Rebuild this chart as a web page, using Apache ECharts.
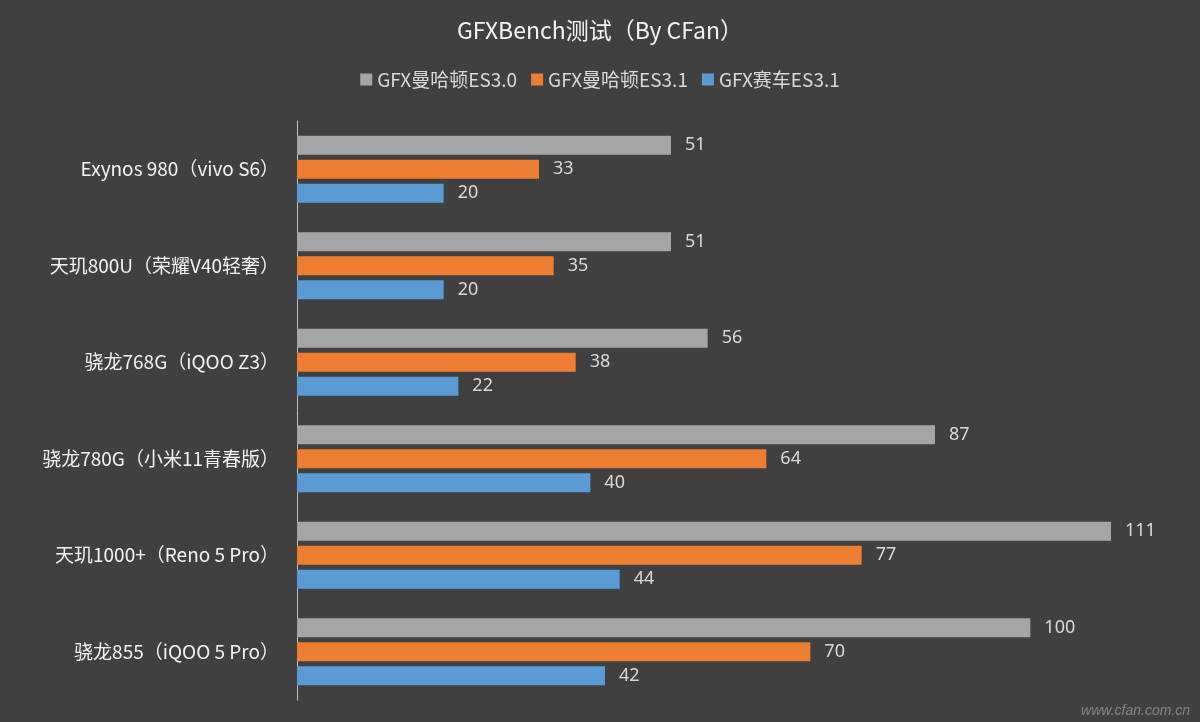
<!DOCTYPE html>
<html><head><meta charset="utf-8">
<script src="https://cdn.jsdelivr.net/npm/echarts@6/dist/echarts.min.js"></script>
<style>html,body{margin:0;padding:0;background:#404040}#c{width:1200px;height:722px}</style>
</head><body><div id="c"></div>
<script>
const categories=["Exynos 980（vivo S6）","天玑800U（荣耀V40轻奢）","骁龙768G（iQOO Z3）","骁龙780G（小米11青春版）","天玑1000+（Reno 5 Pro）","骁龙855（iQOO 5 Pro）"];
const seriesNames=["GFX曼哈顿ES3.0","GFX曼哈顿ES3.1","GFX赛车ES3.1"];
const manhattan30=[51,51,56,87,111,100];
const manhattan31=[33,35,38,64,77,70];
const car31=[20,20,22,40,44,42];
const colors=["#a5a5a5","#ed7d31","#5b9bd5"];
const data=[manhattan30,manhattan31,car31];
const chart=echarts.init(document.getElementById('c'));
chart.setOption({
backgroundColor:'#404040',
title:{text:'GFXBench测试（By CFan）',left:'center',top:14,textStyle:{color:'#f2f2f2',fontSize:23,fontWeight:'normal',fontFamily:'Noto Sans CJK SC'}},
legend:{top:65,itemWidth:12,itemHeight:12,icon:'rect',itemGap:14,textStyle:{color:'#d9d9d9',fontSize:19,fontFamily:'Noto Sans CJK SC'},data:seriesNames},
grid:{left:297,right:23,top:121,bottom:22,containLabel:false},
xAxis:{type:'value',min:0,max:120,show:false},
yAxis:{type:'category',inverse:true,data:categories,axisTick:{show:false},axisLine:{lineStyle:{color:'#bfbfbf'}},axisLabel:{color:'#f2f2f2',fontSize:19,margin:18,fontFamily:'Noto Sans CJK SC'}},
series:seriesNames.map((n,i)=>({name:n,type:'bar',data:data[i],barWidth:19,barGap:'26%',barCategoryGap:'31%',itemStyle:{color:colors[i]},label:{show:true,position:'right',distance:14,color:'#d9d9d9',fontSize:18,fontFamily:'Noto Sans'}})),
graphic:[{type:'text',right:10,bottom:4,style:{text:'www.cfan.com.cn',fill:'rgba(255,255,255,0.35)',font:'italic 14px sans-serif'}}]
});
</script></body></html>
